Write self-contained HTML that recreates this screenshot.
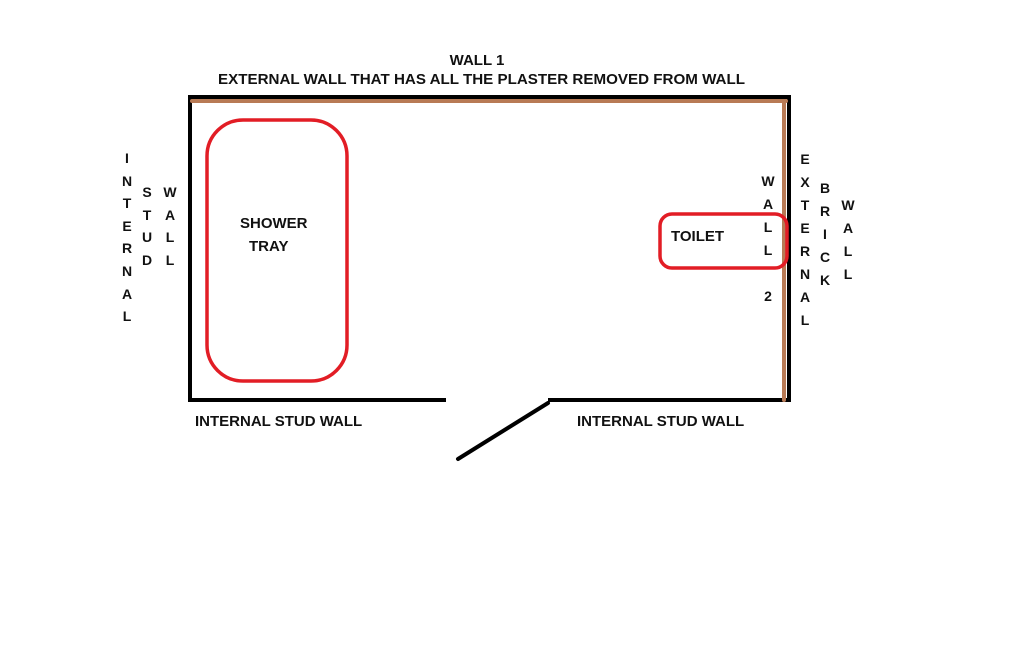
<!DOCTYPE html>
<html><head><meta charset="utf-8"><style>html,body{margin:0;padding:0;background:#fff}svg{display:block}</style></head>
<body>
<svg width="1019" height="650" viewBox="0 0 1019 650" xmlns="http://www.w3.org/2000/svg" font-family="Liberation Sans, sans-serif" font-weight="bold" font-size="15" fill="#111">
<rect width="1019" height="650" fill="#fff"/>
<g stroke="#000" stroke-width="4" fill="none">
<line x1="188" y1="97" x2="791" y2="97"/>
<line x1="190" y1="96" x2="190" y2="402"/>
<line x1="789" y1="96" x2="789" y2="402"/>
<line x1="188" y1="400" x2="446" y2="400"/>
<line x1="548" y1="400" x2="790" y2="400"/>
<line x1="458" y1="459" x2="548" y2="403" stroke-linecap="round"/>
</g>
<g stroke="#b87a55" stroke-width="4" stroke-linecap="round">
<line x1="192" y1="101" x2="786" y2="101"/>
<line x1="784" y1="101" x2="784" y2="400"/>
</g>
<rect x="207" y="120" width="140" height="261" rx="36" fill="none" stroke="#e21d25" stroke-width="3.5"/>
<rect x="660" y="214" width="127" height="54" rx="12" fill="none" stroke="#e21d25" stroke-width="3.5"/>
<text x="477" y="65" text-anchor="middle">WALL 1</text>
<text x="218" y="84" textLength="527" lengthAdjust="spacingAndGlyphs">EXTERNAL WALL THAT HAS ALL THE PLASTER REMOVED FROM WALL</text>
<text x="240" y="228">SHOWER</text>
<text x="249" y="251">TRAY</text>
<text x="671" y="241">TOILET</text>
<text x="195" y="426">INTERNAL STUD WALL</text>
<text x="577" y="426">INTERNAL STUD WALL</text>
<g text-anchor="middle" font-size="14">
<text x="127" y="163">I</text><text x="127" y="186">N</text><text x="127" y="208">T</text><text x="127" y="231">E</text><text x="127" y="253">R</text><text x="127" y="276">N</text><text x="127" y="299">A</text><text x="127" y="321">L</text>
<text x="147" y="197">S</text><text x="147" y="220">T</text><text x="147" y="242">U</text><text x="147" y="265">D</text>
<text x="170" y="197">W</text><text x="170" y="220">A</text><text x="170" y="242">L</text><text x="170" y="265">L</text>
<text x="768" y="186">W</text><text x="768" y="209">A</text><text x="768" y="232">L</text><text x="768" y="255">L</text><text x="768" y="301">2</text>
<text x="805" y="164">E</text><text x="805" y="187">X</text><text x="805" y="210">T</text><text x="805" y="233">E</text><text x="805" y="256">R</text><text x="805" y="279">N</text><text x="805" y="302">A</text><text x="805" y="325">L</text>
<text x="825" y="193">B</text><text x="825" y="216">R</text><text x="825" y="239">I</text><text x="825" y="262">C</text><text x="825" y="285">K</text>
<text x="848" y="210">W</text><text x="848" y="233">A</text><text x="848" y="256">L</text><text x="848" y="279">L</text>
</g>
</svg>
</body></html>
